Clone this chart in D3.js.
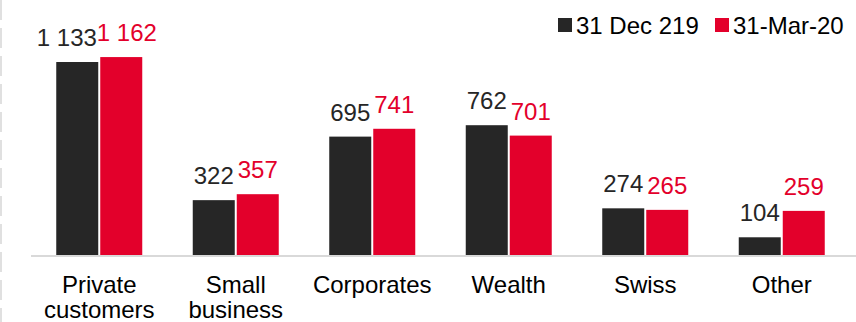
<!DOCTYPE html>
<html>
<head>
<meta charset="utf-8">
<script src="https://cdn.jsdelivr.net/npm/d3@7"></script>
<style>
  html, body { margin: 0; padding: 0; background: #fff; }
  svg { display: block; font-family: 'Liberation Sans', Arial, sans-serif; }
</style>
</head>
<body>
<div id="chart"></div>
<script>
const categories = [['Private', 'customers'], ['Small', 'business'], ['Corporates'], ['Wealth'], ['Swiss'], ['Other']];
const seriesNames = ['31 Dec 219', '31-Mar-20'];
const dec19 = [1133, 322, 695, 762, 274, 104];
const mar20 = [1162, 357, 741, 701, 265, 259];
const valueLabels = [
  ['1 133', '322', '695', '762', '274', '104'],
  ['1 162', '357', '741', '701', '265', '259'],
];

const size = { width: 856, height: 322 };
const margin = { top: 50, right: 6, bottom: 67, left: 31 };
const colors = ['#262626', '#e3002b'];
const fontSize = 24;

const svg = d3
  .select('#chart')
  .append('svg')
  .attr('width', size.width)
  .attr('height', size.height);

const keys = categories.map((c) => c.join(' '));

const x = d3
  .scaleBand()
  .domain(keys)
  .range([margin.left, size.width - margin.right]);

const groupWidth = 86;
const xInner = d3
  .scaleBand()
  .domain(seriesNames)
  .range([0, groupWidth])
  .paddingInner(2 / 44);

const y = d3
  .scaleLinear()
  .domain([0, 1200])
  .range([size.height - margin.bottom, size.height - margin.bottom - 204.4]);

// dashed frame edge on the left
svg
  .append('line')
  .attr('x1', 1)
  .attr('x2', 1)
  .attr('y1', 0)
  .attr('y2', size.height)
  .attr('stroke', '#e0e0e0')
  .attr('stroke-width', 2)
  .attr('stroke-dasharray', '20 8');

const rows = keys.map((k, i) => ({ key: k, lines: categories[i], vals: [dec19[i], mar20[i]], i }));

const groups = svg
  .selectAll('g.cat')
  .data(rows)
  .join('g')
  .attr('class', 'cat')
  .attr('transform', (d) => `translate(${x(d.key) + (x.bandwidth() - groupWidth) / 2},0)`);

groups
  .selectAll('rect')
  .data((d) => d.vals.map((v, s) => ({ v, s, i: d.i })))
  .join('rect')
  .attr('x', (d) => xInner(seriesNames[d.s]))
  .attr('width', xInner.bandwidth())
  .attr('y', (d) => y(d.v))
  .attr('height', (d) => y(0) - y(d.v))
  .attr('fill', (d) => colors[d.s]);

groups.each(function () {
  const labels = d3
    .select(this)
    .selectAll('text.val')
    .data((d) => d.vals.map((v, s) => ({ v, s, i: d.i })))
    .join('text')
    .attr('class', 'val')
    .attr('x', (d) => xInner(seriesNames[d.s]) + xInner.bandwidth() / 2)
    .attr('y', (d) => y(d.v) - 16)
    .attr('text-anchor', 'middle')
    .attr('font-size', fontSize)
    .attr('fill', (d) => colors[d.s])
    .text((d) => valueLabels[d.s][d.i]);

  // push the two labels apart when they collide, like the office chart does
  const nodes = labels.nodes();
  const w = nodes.map((n) => n.getComputedTextLength());
  const cx = nodes.map((n) => +n.getAttribute('x'));
  const overlap = cx[0] + w[0] / 2 - (cx[1] - w[1] / 2);
  if (overlap > 0) {
    d3.select(nodes[0]).attr('x', cx[0] - overlap * 0.65);
    d3.select(nodes[1]).attr('x', cx[1] + overlap * 0.35);
  }
});

// baseline
svg
  .append('line')
  .attr('x1', margin.left)
  .attr('x2', size.width)
  .attr('y1', y(0) + 1)
  .attr('y2', y(0) + 1)
  .attr('stroke', '#d9d9d9')
  .attr('stroke-width', 2);

// category labels
const catText = svg
  .selectAll('text.cat')
  .data(rows)
  .join('text')
  .attr('class', 'cat')
  .attr('text-anchor', 'middle')
  .attr('font-size', fontSize)
  .attr('fill', '#000');

catText
  .selectAll('tspan')
  .data((d) => d.lines.map((t) => ({ t, cx: x(d.key) + x.bandwidth() / 2 })))
  .join('tspan')
  .attr('x', (d) => d.cx)
  .attr('y', (d, j) => 293 + j * 25)
  .text((d) => d.t);

// legend
const legendX = [558, 715];
const legend = svg
  .selectAll('g.legend')
  .data(seriesNames)
  .join('g')
  .attr('class', 'legend')
  .attr('transform', (d, s) => `translate(${legendX[s]},18)`);

legend
  .append('rect')
  .attr('width', 14)
  .attr('height', 14)
  .attr('fill', (d, s) => colors[s]);

legend
  .append('text')
  .attr('x', 18)
  .attr('y', 16)
  .attr('font-size', fontSize)
  .attr('fill', '#000')
  .text((d) => d);
</script>
</body>
</html>
